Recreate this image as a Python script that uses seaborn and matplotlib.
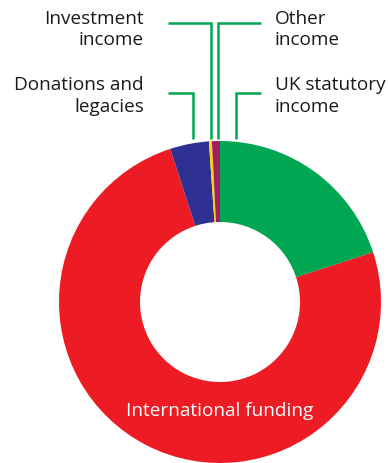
import matplotlib
matplotlib.use("Agg")
import matplotlib.pyplot as plt
import seaborn as sns

sns.set_theme(style="white")
plt.rcParams['font.family'] = ['Open Sans', 'DejaVu Sans']

categories = ["UK statutory income", "International funding", "Donations and legacies",
              "Investment income", "Other income"]
values = [20.0, 75.0, 3.9, 0.3, 0.8]
colors = ["#00A651", "#ED1C24", "#2E3192", "#FFD200", "#9E1F63"]

W, H = 388, 464
fig = plt.figure(figsize=(W / 100, H / 100), dpi=100)
ax = fig.add_axes([0, 0, 1, 1])

def Y(y):
    return H - y

ax.pie(values, colors=colors, startangle=90, counterclock=False,
       center=(220, Y(303)), radius=161,
       wedgeprops=dict(width=81, edgecolor='none', linewidth=0))
ax.set_xlim(0, W)
ax.set_ylim(0, H)
ax.set_aspect('equal')
ax.axis('off')

line_c = "#00A651"
lw = 1.8
leaders = [
    [(168, 24), (211, 24), (211, 140)],
    [(261, 24), (218, 24), (218, 140)],
    [(168, 94), (193, 94), (193, 140)],
    [(261, 94), (236, 94), (236, 140)],
]
for pts in leaders:
    ax.plot([p[0] for p in pts], [Y(p[1]) for p in pts], color=line_c, lw=lw,
            solid_capstyle='butt', solid_joinstyle='miter')

txt_c = "#1A1A1A"
fs = 13.7
labels = [
    ("Investment", 144, 24, 'right'), ("income", 144, 45, 'right'),
    ("Other", 275, 24, 'left'), ("income", 275, 45, 'left'),
    ("Donations and", 144, 90, 'right'), ("legacies", 144, 112, 'right'),
    ("UK statutory", 275, 90, 'left'), ("income", 275, 112, 'left'),
]
for t, x, y, ha in labels:
    ax.text(x, Y(y), t, ha=ha, va='baseline', fontsize=fs, color=txt_c)

ax.text(219.5, Y(416), "International funding", ha='center', va='baseline',
        fontsize=fs, color='white')

fig.savefig("out.png", dpi=100)
